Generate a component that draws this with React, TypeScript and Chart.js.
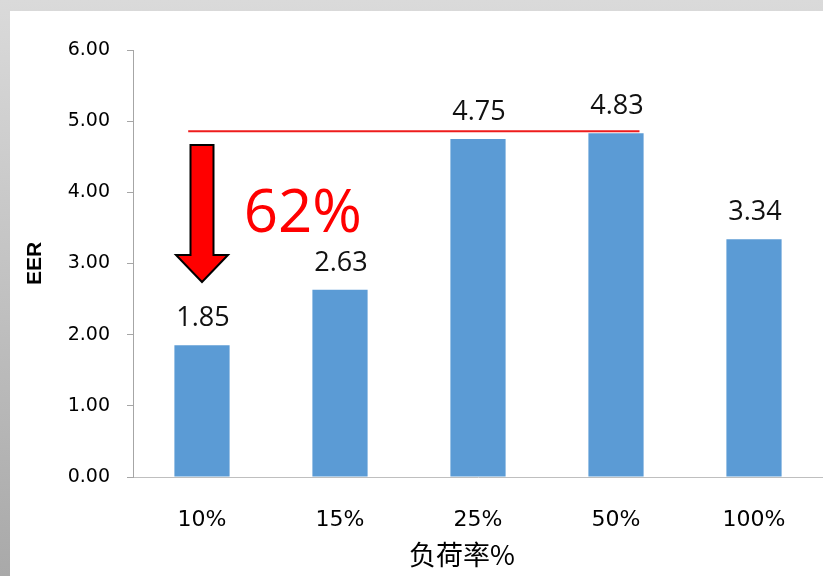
import React, { useEffect, useRef } from "react";
import { Chart, registerables } from "chart.js";

Chart.register(...registerables);

// ---- data ----
const categories = ["10%", "15%", "25%", "50%", "100%"];
const eerValues = [1.85, 2.63, 4.75, 4.83, 3.34];
const yMin = 0;
const yMax = 6;
const yStep = 1;
const xAxisTitle = "负荷率%";
const yAxisTitle = "EER";
const dropLabel = "62%";
// reference line across the peak value (value / category-index range)
const refLineValue = 4.86;
const refLineFrom = -0.1;
const refLineTo = 3.17;
// arrow (category index / values)
const arrowIndex = 0;
const arrowTopValue = 4.665;
const arrowHeadValue = 3.12;
const arrowTipValue = 2.74;
// "62%" label anchor (category index / value)
const dropLabelIndex = 0.73;
const dropLabelValue = 3.68;

const annotationPlugin = {
  id: "annotations",
  afterDatasetsDraw(chart: any) {
    const { ctx, chartArea } = chart;
    const xs = chart.scales.x;
    const ys = chart.scales.y;
    ctx.save();

    // data labels
    const meta = chart.getDatasetMeta(0);
    ctx.font = "27px 'Open Sans'";
    ctx.fillStyle = "#111";
    ctx.textAlign = "center";
    ctx.textBaseline = "middle";
    meta.data.forEach((el: any, i: number) => {
      ctx.fillText(eerValues[i].toFixed(2), el.x + 1, el.y - 27);
    });

    // red reference line
    const ly = ys.getPixelForValue(refLineValue);
    ctx.strokeStyle = "#ee1c1c";
    ctx.lineWidth = 2;
    ctx.beginPath();
    ctx.moveTo(xs.getPixelForValue(refLineFrom), ly);
    ctx.lineTo(xs.getPixelForValue(refLineTo), ly);
    ctx.stroke();

    // arrow
    const ax = xs.getPixelForValue(arrowIndex);
    const aTop = ys.getPixelForValue(arrowTopValue);
    const aHead = ys.getPixelForValue(arrowHeadValue);
    const aTip = ys.getPixelForValue(arrowTipValue);
    const sw = 11.5;
    const hw = 26;
    ctx.beginPath();
    ctx.moveTo(ax - sw, aTop);
    ctx.lineTo(ax + sw, aTop);
    ctx.lineTo(ax + sw, aHead);
    ctx.lineTo(ax + hw, aHead);
    ctx.lineTo(ax, aTip);
    ctx.lineTo(ax - hw, aHead);
    ctx.lineTo(ax - sw, aHead);
    ctx.closePath();
    ctx.fillStyle = "#ff0000";
    ctx.fill();
    ctx.lineWidth = 2;
    ctx.lineJoin = "miter";
    ctx.strokeStyle = "#000";
    ctx.stroke();

    // 62% label
    ctx.font = "60px 'Open Sans'";
    ctx.fillStyle = "#ff0000";
    ctx.textAlign = "center";
    ctx.textBaseline = "middle";
    ctx.fillText(dropLabel, xs.getPixelForValue(dropLabelIndex), ys.getPixelForValue(dropLabelValue));

    // y axis title
    ctx.save();
    ctx.translate(25, (chartArea.top + chartArea.bottom) / 2);
    ctx.rotate(-Math.PI / 2);
    ctx.font = "bold 21px 'Liberation Sans'";
    ctx.fillStyle = "#000";
    ctx.textAlign = "center";
    ctx.textBaseline = "middle";
    ctx.fillText(yAxisTitle, 0, 0);
    ctx.restore();

    // x axis title
    ctx.font = "27px 'Noto Sans CJK SC'";
    ctx.fillStyle = "#000";
    ctx.textAlign = "center";
    ctx.textBaseline = "middle";
    ctx.fillText(xAxisTitle, (chartArea.left + chartArea.right) / 2 - 16, chartArea.bottom + 78);

    ctx.restore();
  },
};

export default function App() {
  const canvasRef = useRef<HTMLCanvasElement | null>(null);

  useEffect(() => {
    const canvas = canvasRef.current;
    if (!canvas) return;
    const chart = new Chart(canvas, {
      type: "bar",
      data: {
        labels: categories,
        datasets: [
          {
            data: eerValues,
            backgroundColor: "#5b9bd5",
            barPercentage: 0.4,
            categoryPercentage: 1,
          },
        ],
      },
      options: {
        responsive: false,
        animation: false,
        devicePixelRatio: 1,
        layout: { padding: { top: 39, left: 0, right: 0, bottom: 0 } },
        plugins: {
          legend: { display: false },
          tooltip: { enabled: false },
          title: { display: false },
        },
        scales: {
          x: {
            grid: { display: false, drawTicks: false },
            border: { display: true, color: "#bfbfbf", width: 1 },
            ticks: {
              color: "#000",
              font: { family: "'DejaVu Sans'", size: 22 },
              padding: 30,
              maxRotation: 0,
            },
            afterFit: (s: any) => {
              s.height = 99;
            },
          },
          y: {
            min: yMin,
            max: yMax,
            grid: {
              drawOnChartArea: false,
              drawTicks: true,
              tickLength: 6,
              color: "#a6a6a6",
            },
            border: { display: true, color: "#a6a6a6", width: 1 },
            ticks: {
              stepSize: yStep,
              color: "#000",
              font: { family: "'DejaVu Sans'", size: 19 },
              padding: 17,
              callback: (v: any) => Number(v).toFixed(2),
            },
            afterFit: (s: any) => {
              s.width = 123;
            },
          },
        },
      },
      plugins: [annotationPlugin],
    });
    return () => chart.destroy();
  }, []);

  return (
    <div
      style={{
        position: "fixed",
        left: 0,
        top: 0,
        width: 823,
        height: 576,
        background: "linear-gradient(to bottom, #dadada, #a9a9a9)",
        overflow: "hidden",
      }}
    >
      <canvas
        ref={canvasRef}
        width={813}
        height={565}
        style={{
          position: "absolute",
          left: 10,
          top: 11,
          width: 813,
          height: 565,
          background: "#fff",
          display: "block",
        }}
      />
    </div>
  );
}
